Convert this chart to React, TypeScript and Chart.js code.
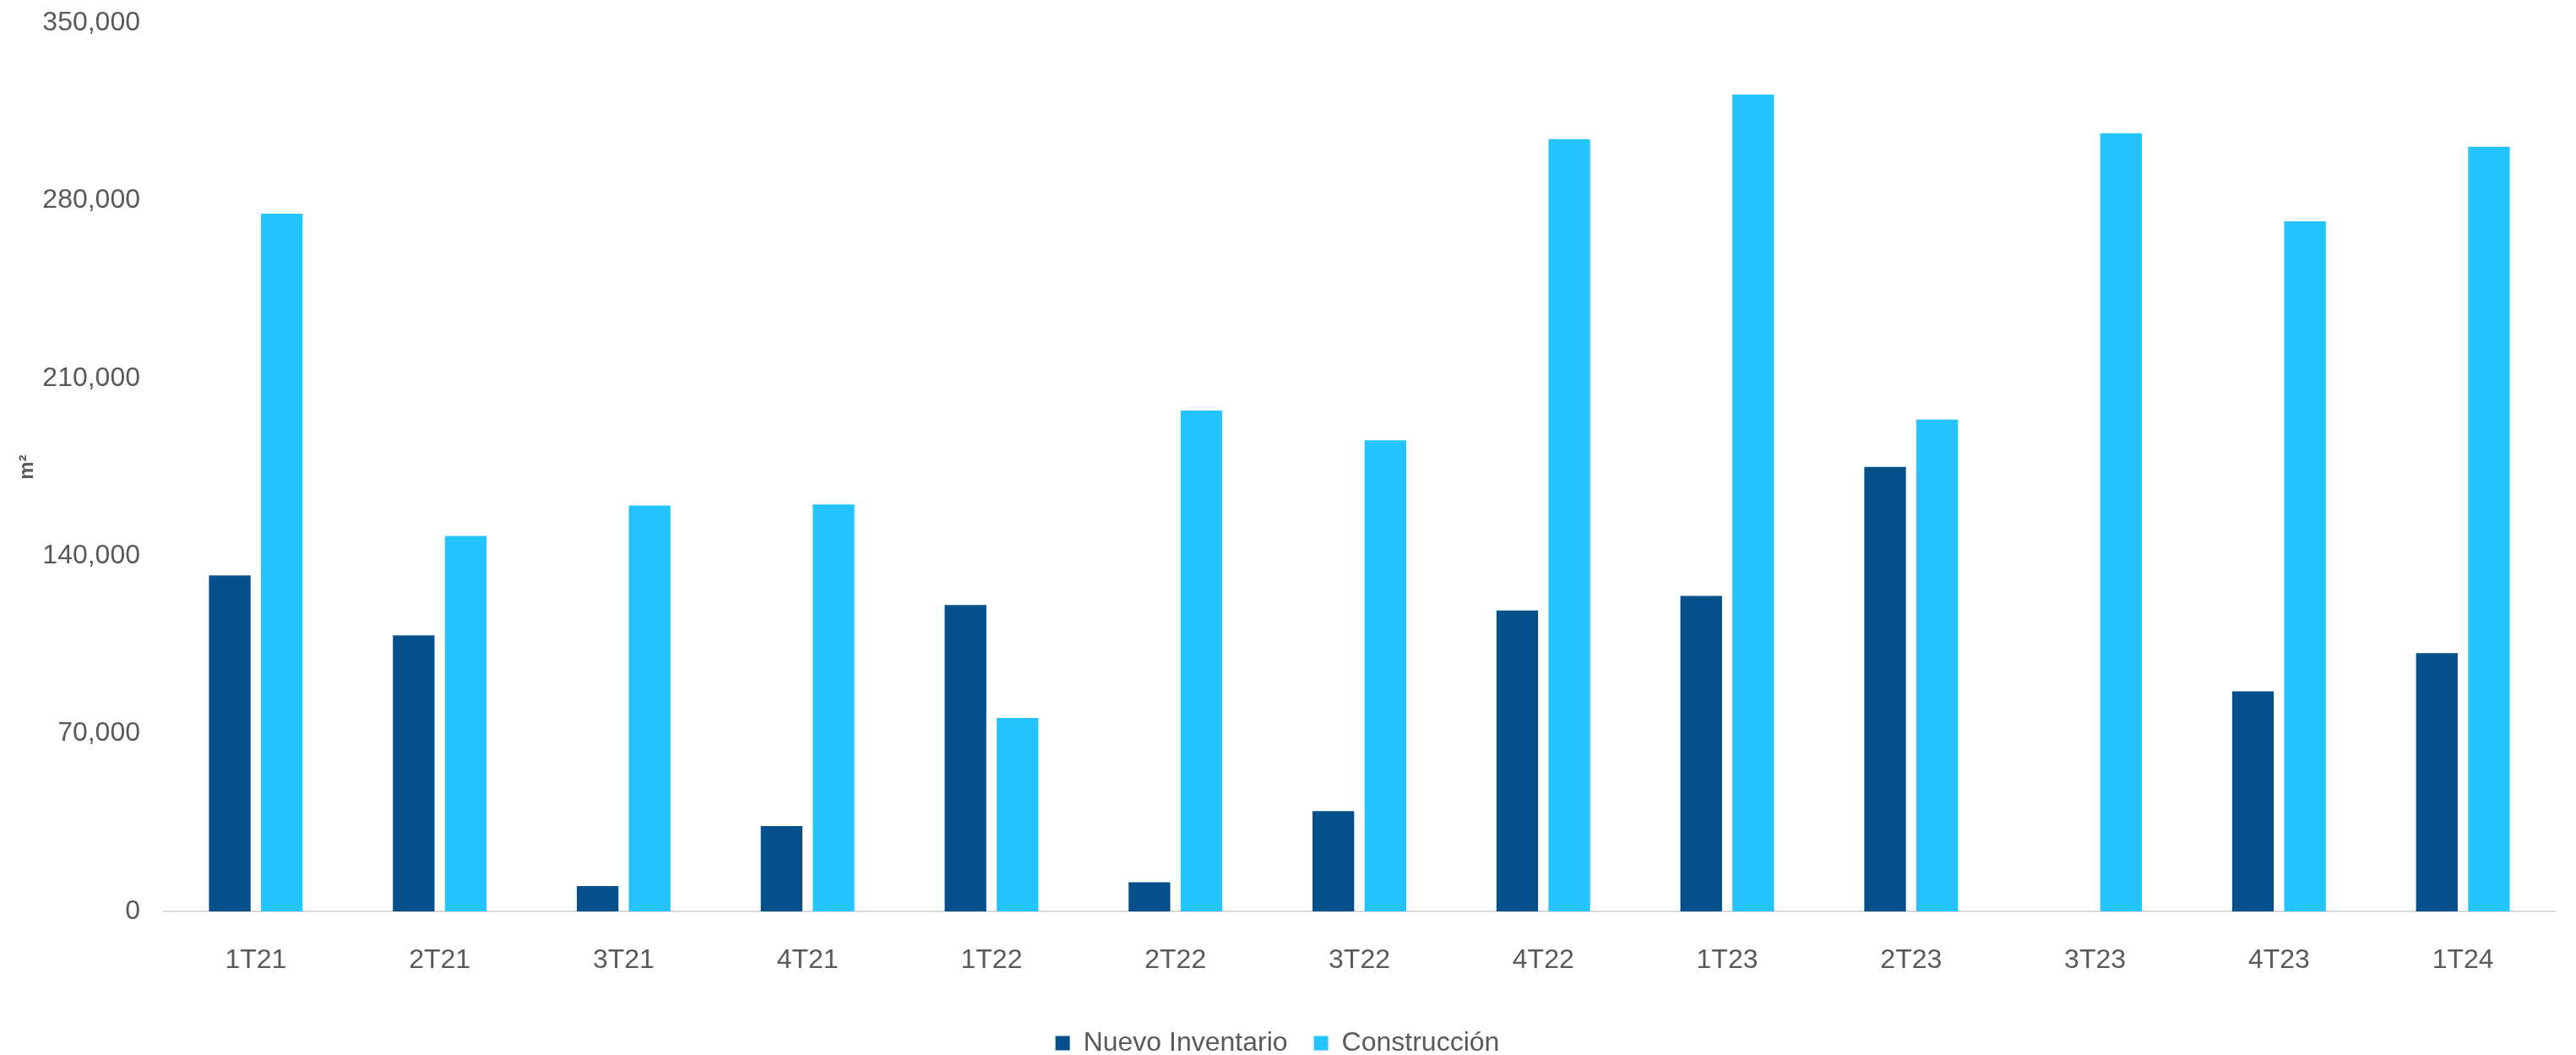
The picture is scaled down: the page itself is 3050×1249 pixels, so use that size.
import React, { useEffect, useRef } from "react";
import { Chart, registerables } from "chart.js";

Chart.register(...registerables);

const categories = ["1T21", "2T21", "3T21", "4T21", "1T22", "2T22", "3T22", "4T22", "1T23", "2T23", "3T23", "4T23", "1T24"];
const nuevoInventario = [132300, 108700, 10000, 33600, 120700, 11500, 39500, 118500, 124300, 175100, 0, 86700, 101700];
const construccion = [274800, 147900, 159900, 160300, 76200, 197300, 185600, 304200, 321700, 193700, 306500, 271800, 301200];
const seriesNames = ["Nuevo Inventario", "Construcción"];
const yMin = 0;
const yMax = 350000;
const yStep = 70000;
const yTitle = "m²";

const FONT = "'Liberation Sans', Arial, Helvetica, sans-serif";
const TEXT = "#595959";

export default function App() {
  const ref = useRef<HTMLCanvasElement | null>(null);

  useEffect(() => {
    if (!ref.current) return;
    const chart = new Chart(ref.current, {
      type: "bar",
      data: {
        labels: categories,
        datasets: [
          {
            label: seriesNames[0],
            data: nuevoInventario,
            backgroundColor: "#03508A",
            categoryPercentage: 0.566,
            barPercentage: 0.8,
          },
          {
            label: seriesNames[1],
            data: construccion,
            backgroundColor: "#23C4FF",
            categoryPercentage: 0.566,
            barPercentage: 0.8,
          },
        ],
      },
      options: {
        animation: false,
        responsive: false,
        devicePixelRatio: 1,
        layout: { padding: { top: 27, right: 25, left: 0, bottom: 0 } },
        plugins: {
          tooltip: { enabled: false },
          legend: {
            position: "bottom",
            labels: {
              color: TEXT,
              font: { family: FONT, size: 32 },
              boxWidth: 17,
              boxHeight: 17,
              padding: 31,
            },
          },
        },
        scales: {
          x: {
            grid: { display: false, drawTicks: false },
            border: { display: true, color: "#D9D9D9", width: 2 },
            ticks: {
              color: TEXT,
              font: { family: FONT, size: 32 },
              padding: 39,
              maxRotation: 0,
              autoSkip: false,
            },
            afterFit: (scale: any) => {
              scale.height = 109;
            },
          },
          y: {
            min: yMin,
            max: yMax,
            grid: { display: false, drawTicks: false },
            border: { display: false },
            ticks: {
              stepSize: yStep,
              color: TEXT,
              font: { family: FONT, size: 32 },
              padding: 28,
              callback: (v: any) => Number(v).toLocaleString("en-US"),
            },
            title: {
              display: true,
              text: yTitle,
              color: TEXT,
              font: { family: FONT, size: 24, weight: "bold" },
              padding: { top: 18, bottom: 0 },
            },
            afterFit: (scale: any) => {
              scale.width = 194;
              scale.paddingTop = 0;
              scale.paddingBottom = 0;
            },
          },
        },
      },
    });
    return () => chart.destroy();
  }, []);

  return (
    <canvas
      ref={ref}
      width={3050}
      height={1261}
      style={{ position: "fixed", left: 0, top: 0, width: 3050, height: 1261 }}
    />
  );
}
